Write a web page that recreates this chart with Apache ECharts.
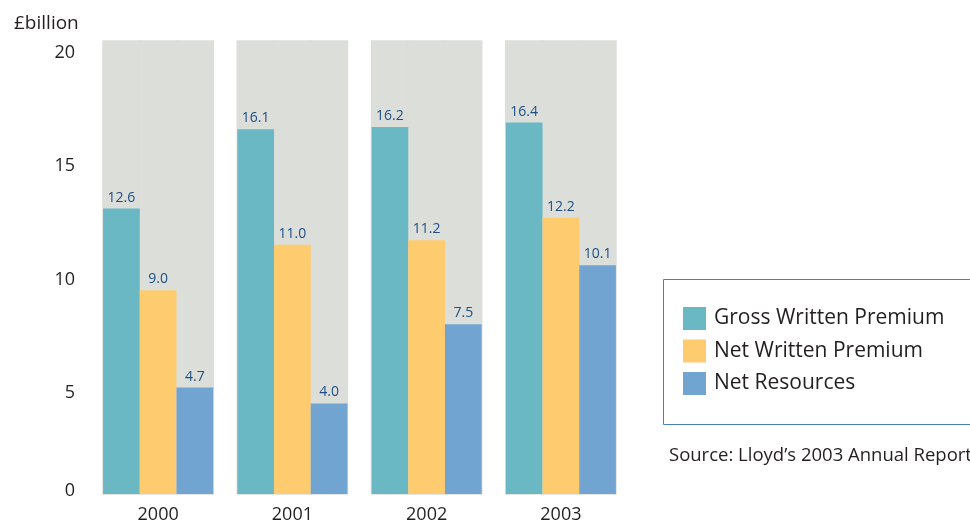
<!DOCTYPE html>
<html>
<head>
<meta charset="utf-8">
<script src="https://cdn.jsdelivr.net/npm/echarts@6/dist/echarts.min.js"></script>
<style>html,body{margin:0;padding:0;background:#fff}#c{width:970px;height:524px}</style>
</head>
<body>
<div id="c"></div>
<script>
var categories = ['2000', '2001', '2002', '2003'];
var grossWrittenPremium = [12.6, 16.1, 16.2, 16.4];
var netWrittenPremium = [9.0, 11.0, 11.2, 12.2];
var netResources = [4.7, 4.0, 7.5, 10.1];
var seriesNames = ['Gross Written Premium', 'Net Written Premium', 'Net Resources'];
var yTicks = [0, 5, 10, 15, 20];

var FONT = '"Open Sans", "Noto Sans", sans-serif';
var colors = ['#69b8c3', '#fecb6e', '#72a4d2'];
var bg = '#dcdeda';
var ink = '#231f20';

function barSeries(name, data, color) {
  return {
    name: name, type: 'bar', data: data,
    barWidth: 36.7, barGap: '0%',
    itemStyle: { color: color },
    showBackground: true,
    backgroundStyle: { color: bg, borderColor: bg, borderWidth: 1.6 },
    label: {
      show: true, position: 'top', distance: 4,
      color: '#1d4f86', fontSize: 14, fontFamily: FONT, letterSpacing: -1,
      formatter: function (p) { return p.value.toFixed(1); }
    }
  };
}

var chart = echarts.init(document.getElementById('c'));
chart.setOption({
  animation: false,
  textStyle: { fontFamily: FONT },
  title: {
    text: '£billion', left: 9, top: 9,
    textStyle: { fontSize: 19, fontWeight: 'normal', color: ink, fontFamily: FONT }
  },
  grid: { left: 91, right: 342, top: 41, bottom: 28 },
  legend: {
    orient: 'vertical', left: 678, top: 302,
    itemWidth: 23, itemHeight: 23, itemGap: 9.5, icon: 'rect',
    data: seriesNames,
    textStyle: { fontSize: 21, color: ink, fontFamily: FONT, padding: [0, 0, 0, 3] }
  },
  xAxis: {
    type: 'category', data: categories,
    axisLine: { show: false }, axisTick: { show: false },
    axisLabel: { fontSize: 18, color: ink, margin: 12, fontFamily: FONT }
  },
  yAxis: {
    type: 'value', min: 0, max: 20, interval: 5,
    splitLine: { show: false }, axisLine: { show: false }, axisTick: { show: false },
    axisLabel: {
      margin: 16, fontSize: 18, color: ink, fontFamily: FONT,
      formatter: function (v) { return yTicks.indexOf(v) === 0 ? '{z|' + v + '}' : '{n|' + v + '}'; },
      rich: {
        n: { fontSize: 18, color: ink, fontFamily: FONT, padding: [24, 0, 0, 0] },
        z: { fontSize: 18, color: ink, fontFamily: FONT, padding: [0, 0, 7, 0] }
      }
    }
  },
  graphic: [
    { type: 'rect', left: 661, top: 277, shape: { x: 0.5, y: 0.5, width: 400, height: 145 },
      style: { fill: 'none', stroke: '#4a80b4', lineWidth: 1 }, silent: true },
    { type: 'text', left: 669, top: 446,
      style: { text: 'Source: Lloyd’s 2003 Annual Report', fontSize: 18.5, fill: ink, fontFamily: FONT } }
  ],
  series: [
    barSeries(seriesNames[0], grossWrittenPremium, colors[0]),
    barSeries(seriesNames[1], netWrittenPremium, colors[1]),
    barSeries(seriesNames[2], netResources, colors[2])
  ]
});
</script>
</body>
</html>
